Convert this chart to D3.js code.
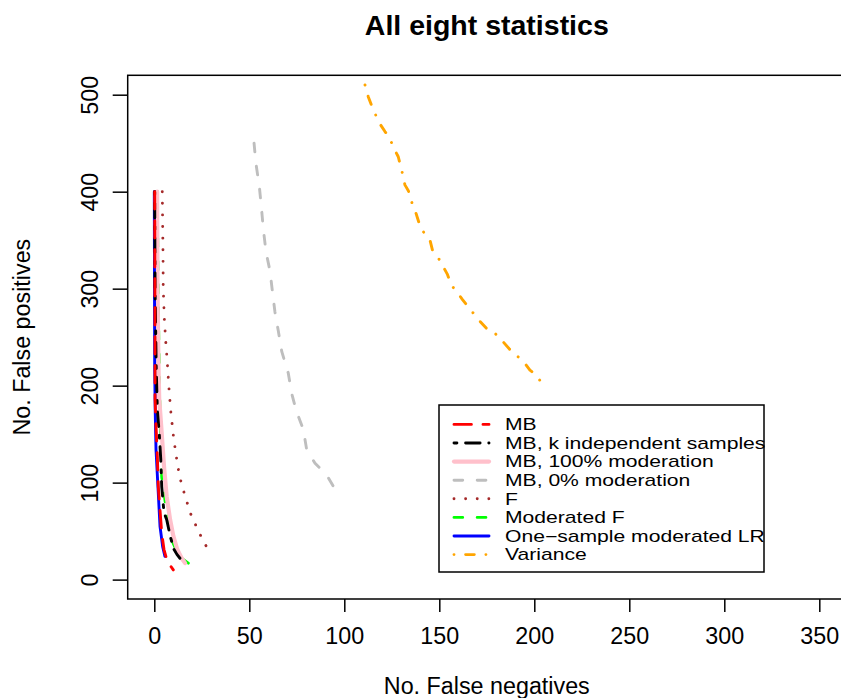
<!DOCTYPE html>
<html><head><meta charset="utf-8">
<script src="https://cdn.jsdelivr.net/npm/d3@7"></script>
<style>body{margin:0;background:#fff}svg{display:block}text{font-family:"Liberation Sans",Arial,Helvetica,sans-serif;fill:#000}</style>
</head><body><svg id="c" width="841" height="698"></svg>
<script>
// ---- data ----
const xTicks = [0, 50, 100, 150, 200, 250, 300, 350];
const yTicks = [0, 100, 200, 300, 400, 500];
const seriesNames = ["MB", "MB, k independent samples", "MB, 100% moderation", "MB, 0% moderation", "F", "Moderated F", "One\u2212sample moderated LR", "Variance"];
const mbFN = [0.2, 0.3, 0.4, 0.9, 1.6, 2.1, 3.0, 3.9, 5.1, 6.5, 8.6, 10];
const mbFP = [400, 300, 186, 158, 127, 96, 72, 48, 31, 21, 14, 10];
const mbkFN = [0.2, 0.4, 1.0, 1.6, 2.6, 3.4, 3.9, 5.1, 6.5, 8.6, 10.4, 11.9, 13.5];
const mbkFP = [400, 300, 220, 175, 151, 124, 96, 69, 62, 43, 31, 26, 22];
const mb100FN = [1.5, 1.7, 2.2, 2.6, 3.9, 5.1, 6.5, 8.3, 10, 12.1, 14.4, 16.2];
const mb100FP = [400, 300, 220, 186, 151, 117, 86, 62, 45, 31, 22, 17];
const mb0FN = [52.5, 53.5, 55.3, 56.5, 57.4, 58.8, 60.9, 62.3, 63.5, 65.3, 67.1, 70.5, 72.3, 74.9, 78.4, 80.2, 84.6, 88.1, 91.6, 94.6];
const mb0FP = [450, 429, 405, 381, 361, 338, 318, 295, 276, 256, 235, 213, 192, 173, 155, 134, 120, 113, 105, 95];
const fFN = [4.2, 4.4, 4.6, 4.7, 5.3, 6.0, 6.8, 7.9, 8.8, 10, 11.4, 13.2, 16.2, 19.3, 23.7, 28.8];
const fFP = [400, 366, 333, 300, 268, 246, 225, 192, 171, 149, 129, 107, 86, 67, 48, 29];
const modFFN = [1.6, 2.0, 2.7, 3.3, 3.9, 5.6, 7.4, 9.2, 11.8, 15, 17.9];
const modFFP = [400, 300, 200, 150, 106, 82, 58, 41, 29, 21, 17];
const oneFN = [0, 0.1, 0.2, 0.5, 0.9, 2.1, 3.0, 4.4, 5.6];
const oneFP = [400, 300, 220, 172, 134, 89, 55, 34, 24];
const varFN = [110.9, 112.6, 114.9, 118.4, 121.4, 123.7, 125.8, 128.4, 130.7, 131.9, 133.7, 135.1, 137.2, 139.8, 143, 145.1, 146.5, 150, 154.2, 156.5, 158.8, 162.1, 165.3, 171.1, 175.3, 178.8, 182.8, 186.8, 189.3, 193.9, 197.7, 200.4, 203.5];
const varFP = [510, 498, 486, 471, 462, 456, 446, 436, 418, 407, 401, 391, 381, 365, 354, 350, 339, 330, 315, 303, 298, 289, 281, 267, 258, 255, 247, 238, 233, 226, 216, 212, 204];

// ---- styles (R line types: longdash, twodash, solid, dashed, dotted, dashed, solid, dotdash) ----
const styles = [
  {col:"#FF0000", w:2.9, dash:"17.4,11.6"},
  {col:"#000000", w:2.9, dash:"2.9,8.7,14.5,8.7"},
  {col:"#FFC0CB", w:4.2, dash:null},
  {col:"#BEBEBE", w:2.9, dash:"8.7,14.5"},
  {col:"#A52A2A", w:2.9, dash:"0.01,11.6"},
  {col:"#00FF00", w:2.9, dash:"8.7,14.5"},
  {col:"#0000FF", w:2.9, dash:null},
  {col:"#FFA500", w:2.9, dash:"0.01,11.6,8.7,11.6"}
];
const xs = [mbFN, mbkFN, mb100FN, mb0FN, fFN, modFFN, oneFN, varFN];
const ys = [mbFP, mbkFP, mb100FP, mb0FP, fFP, modFFP, oneFP, varFP];
const drawOrder = [5, 2, 3, 4, 6, 1, 7, 0];

const svg = d3.select("#c");
const L = 127.7, T = 75.3, R = 845.9, B = 599;
const x = d3.scaleLinear().domain([-14, 364]).range([L, R]);
const y = d3.scaleLinear().domain([-20, 520]).range([B, T]);
const FS = 23.3;

svg.append("defs").append("clipPath").attr("id","clip")
  .append("rect").attr("x",L).attr("y",T).attr("width",R-L).attr("height",B-T);

const line = d3.line().x(d=>x(d[0])).y(d=>y(d[1]));
const g = svg.append("g").attr("clip-path","url(#clip)");
drawOrder.forEach(i=>{
  const pts = xs[i].map((v,k)=>[v, ys[i][k]]);
  g.append("path").attr("d", line(pts)).attr("fill","none")
    .attr("stroke", styles[i].col).attr("stroke-width", styles[i].w)
    .attr("stroke-linecap","round").attr("stroke-linejoin","round")
    .attr("stroke-dasharray", styles[i].dash);
});

// box
svg.append("rect").attr("x",L).attr("y",T).attr("width",R-L).attr("height",B-T)
  .attr("fill","none").attr("stroke","#000").attr("stroke-width",1.5);

// x axis
const xa = svg.append("g").attr("transform",`translate(0,${B})`)
  .call(d3.axisBottom(x).tickValues(xTicks).tickSize(13).tickSizeOuter(0).tickPadding(15));
xa.select(".domain").attr("stroke","none");
xa.selectAll("line").attr("stroke","#000").attr("stroke-width",1.5);
xa.selectAll("text").attr("font-size",FS).attr("font-family","Liberation Sans, Arial, sans-serif").attr("fill","#000");

// y axis
const ya = svg.append("g").attr("transform",`translate(${L},0)`)
  .call(d3.axisLeft(y).tickValues(yTicks).tickSize(15).tickSizeOuter(0));
ya.select(".domain").attr("stroke","none");
ya.selectAll("line").attr("stroke","#000").attr("stroke-width",1.5);
ya.selectAll("text").attr("font-size",FS).attr("font-family","Liberation Sans, Arial, sans-serif").attr("fill","#000")
  .attr("x",null).attr("dy",null).attr("text-anchor","middle")
  .attr("transform","translate(-30,0) rotate(-90)");

// titles
svg.append("text").attr("x",(L+R)/2).attr("y",35).attr("text-anchor","middle")
  .attr("font-size",28.5).attr("font-weight","bold").text("All eight statistics");
svg.append("text").attr("x",(L+R)/2).attr("y",694).attr("text-anchor","middle")
  .attr("font-size",FS).text("No. False negatives");
svg.append("text").attr("transform",`translate(30,${(T+B)/2}) rotate(-90)`).attr("text-anchor","middle")
  .attr("font-size",FS).text("No. False positives");

// legend
const lg = svg.append("g");
lg.append("rect").attr("x",439).attr("y",405).attr("width",325).attr("height",167)
  .attr("fill","#fff").attr("stroke","#000").attr("stroke-width",1.5);
seriesNames.forEach((n,i)=>{
  const yy = 424.4 + i*18.6;
  lg.append("line").attr("x1",454).attr("x2",489).attr("y1",yy).attr("y2",yy)
    .attr("stroke",styles[i].col).attr("stroke-width",styles[i].w)
    .attr("stroke-linecap","round").attr("stroke-dasharray",styles[i].dash);
  lg.append("text").attr("transform",`translate(505,${yy+5.8}) scale(1.32,1)`)
    .attr("font-size",16).text(n);
});
</script></body></html>
